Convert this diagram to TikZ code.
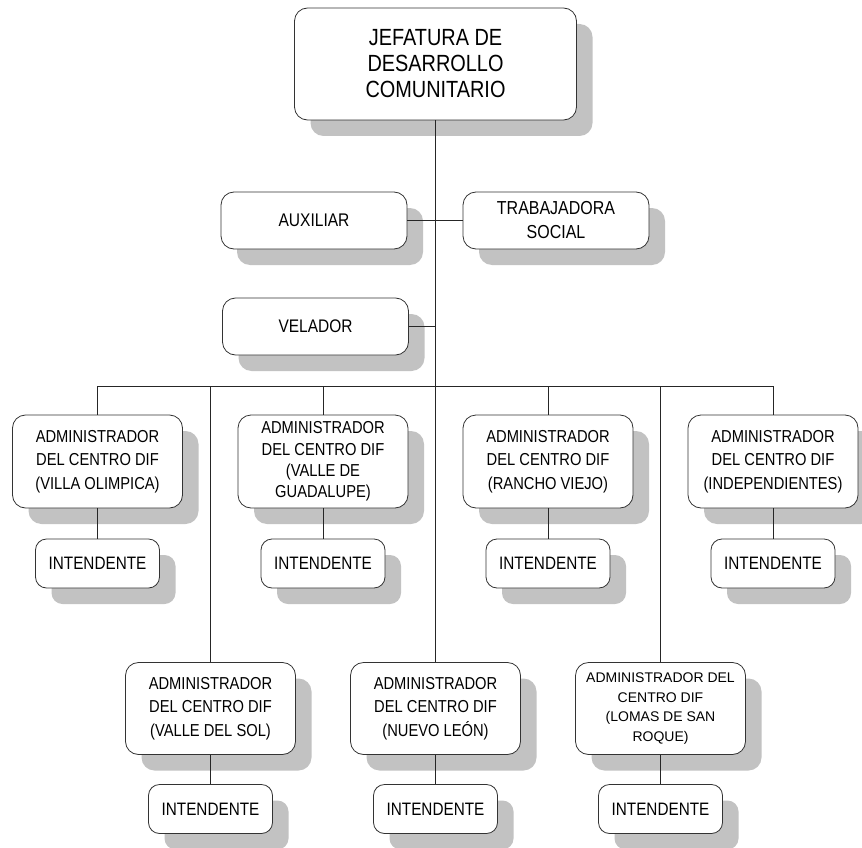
\documentclass[tikz,border=0pt]{standalone}
\usepackage{fontspec}
\setmainfont{Liberation Sans}
\newfontfamily\nfont[FakeStretch=0.85]{Liberation Sans}
\usetikzlibrary{shadows}
\tikzset{
  box/.style={draw=black!80, line width=0.8pt, fill=white, rounded corners=13pt,
    inner sep=0pt, align=center,
    drop shadow={shadow xshift=16pt, shadow yshift=-16pt, fill=black!24, opacity=1}},
  topbox/.style={box, minimum width=282pt, minimum height=112pt,
    font=\nfont\fontsize{23.4}{26}\selectfont},
  midbox/.style={box, minimum width=186pt, minimum height=57pt},
  admbox/.style={box, minimum width=170pt, minimum height=93pt,
    font=\nfont\fontsize{17.3}{23.3}\selectfont},
  intbox/.style={box, rounded corners=11pt, minimum width=124pt, minimum height=49pt,
    font=\nfont\fontsize{18}{20}\selectfont},
  conn/.style={draw=black!85, line width=0.8pt}
}
\begin{document}
\begin{tikzpicture}[x=1pt,y=-1pt]
\useasboundingbox (0,0) rectangle (862,848);
% top
\node[topbox] (top) at (435.5,64) {JEFATURA DE\\DESARROLLO\\COMUNITARIO};
\node[midbox, font=\nfont\fontsize{18.3}{22}\selectfont] (aux) at (314,220.5) {AUXILIAR};
\node[midbox, font=\nfont\fontsize{18.8}{24}\selectfont] (trab) at (556,220.5) {TRABAJADORA\\SOCIAL};
\node[midbox, font=\nfont\fontsize{18.2}{22}\selectfont] (vel) at (315.5,326.5) {VELADOR};
% row 1
\node[admbox] (a1) at (97.5,461.5) {ADMINISTRADOR\\DEL CENTRO DIF\\(VILLA OLIMPICA)};
\node[admbox, font=\nfont\fontsize{17.3}{21.3}\selectfont] (a2) at (323,461.5) {ADMINISTRADOR\\DEL CENTRO DIF\\(VALLE DE\\GUADALUPE)};
\node[admbox] (a3) at (548,461.5) {ADMINISTRADOR\\DEL CENTRO DIF\\(RANCHO VIEJO)};
\node[admbox] (a4) at (773,461.5) {ADMINISTRADOR\\DEL CENTRO DIF\\(INDEPENDIENTES)};
\node[intbox] (i1) at (97.5,563.5) {INTENDENTE};
\node[intbox] (i2) at (323,563.5) {INTENDENTE};
\node[intbox] (i3) at (548,563.5) {INTENDENTE};
\node[intbox] (i4) at (773,563.5) {INTENDENTE};
% row 2
\node[admbox, minimum height=92pt] (b1) at (210.5,708.5) {ADMINISTRADOR\\DEL CENTRO DIF\\(VALLE DEL SOL)};
\node[admbox, minimum height=92pt] (b2) at (435.5,708.5) {ADMINISTRADOR\\DEL CENTRO DIF\\(NUEVO LEÓN)};
\node[admbox, minimum height=92pt, font=\fontsize{14}{19.8}\selectfont] (b3) at (660.5,708.5) {ADMINISTRADOR DEL\\CENTRO DIF\\(LOMAS DE SAN\\ROQUE)};
\node[intbox] (j1) at (210.5,809) {INTENDENTE};
\node[intbox] (j2) at (435.5,809) {INTENDENTE};
\node[intbox] (j3) at (660.5,809) {INTENDENTE};
% connectors
\coordinate (bus) at (435.5,386);
\draw[conn] (top.south) -- (bus);
\draw[conn] (aux.east) -- (trab.west);
\draw[conn] (vel.east) -- (vel.east -| top.south);
\draw[conn] (a1.north |- bus) -- (a4.north |- bus);
\foreach \n in {a1,a2,a3,a4,b1,b2,b3}{
  \draw[conn] (\n.north |- bus) -- (\n.north);
}
\draw[conn] (a1.south) -- (i1.north);
\draw[conn] (a2.south) -- (i2.north);
\draw[conn] (a3.south) -- (i3.north);
\draw[conn] (a4.south) -- (i4.north);
\draw[conn] (b1.south) -- (j1.north);
\draw[conn] (b2.south) -- (j2.north);
\draw[conn] (b3.south) -- (j3.north);
\end{tikzpicture}
\end{document}
